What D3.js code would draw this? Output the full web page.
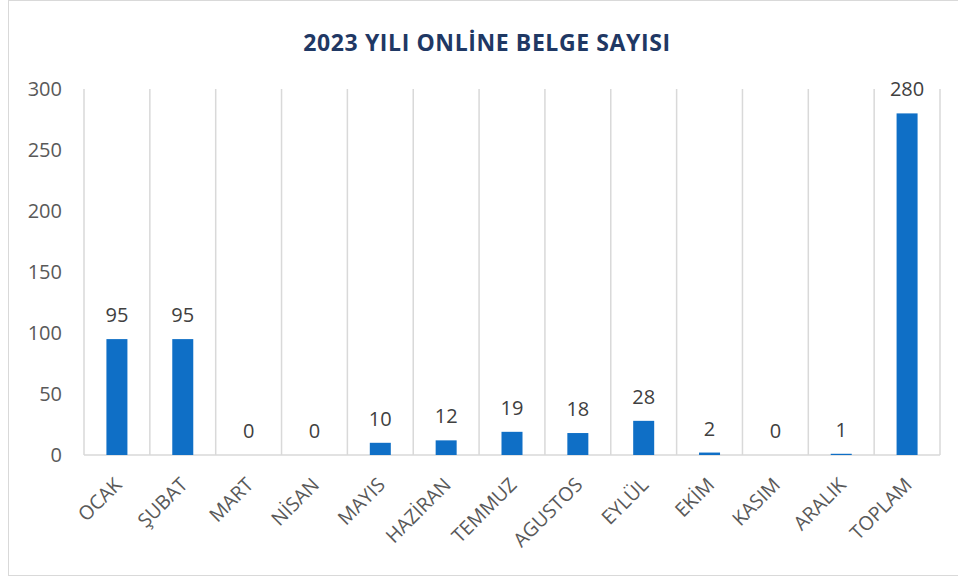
<!DOCTYPE html>
<html>
<head>
<meta charset="utf-8">
<script src="https://cdnjs.cloudflare.com/ajax/libs/d3/7.8.5/d3.min.js"></script>
<style>
  body { margin: 0; background: #fff; }
  svg { display: block; font-family: "Open Sans", sans-serif; }
</style>
</head>
<body>
<div id="container"></div>
<script>
var w = 958,
    h = 581;

// chart data
var months = ['OCAK', 'ŞUBAT', 'MART', 'NİSAN', 'MAYIS', 'HAZİRAN', 'TEMMUZ',
              'AGUSTOS', 'EYLÜL', 'EKİM', 'KASIM', 'ARALIK', 'TOPLAM'];
var counts = [95, 95, 0, 0, 10, 12, 19, 18, 28, 2, 0, 1, 280];
var yTicks = [0, 50, 100, 150, 200, 250, 300];
var title = '2023 YILI ONLİNE BELGE SAYISI';

var margin = { top: 89, right: 18, bottom: 126, left: 84 };
var plotW = w - margin.left - margin.right,
    plotH = h - margin.top - margin.bottom;

var svg = d3.select('#container')
    .append('svg')
    .attr('width', w)
    .attr('height', h);

// outer frame
svg.append('rect')
    .attr('x', 8.5)
    .attr('y', 0.5)
    .attr('width', w)
    .attr('height', 575)
    .attr('fill', '#fff')
    .attr('stroke', '#d9d9d9');

svg.append('text')
    .attr('x', 487)
    .attr('y', 51)
    .attr('text-anchor', 'middle')
    .attr('font-size', 23)
    .attr('font-weight', 'bold')
    .attr('letter-spacing', 0.6)
    .attr('fill', '#1f3864')
    .text(title);

var g = svg.append('g')
    .attr('transform', 'translate(' + margin.left + ',' + margin.top + ')');

var x = d3.scaleBand()
    .domain(months)
    .range([0, plotW])
    .paddingInner(0)
    .paddingOuter(0);

var y = d3.scaleLinear()
    .domain([0, 300])
    .range([plotH, 0]);

// vertical category separators
var seps = d3.range(months.length + 1).map(function(i) { return i * x.step(); });
g.selectAll('.sep')
    .data(seps)
    .enter().append('line')
    .attr('class', 'sep')
    .attr('x1', function(d) { return d; })
    .attr('x2', function(d) { return d; })
    .attr('y1', 0)
    .attr('y2', plotH)
    .attr('stroke', '#d9d9d9')
    .attr('stroke-width', 1.5);

// y axis labels
var yAxis = g.append('g')
    .call(d3.axisLeft(y).tickValues(yTicks).tickSize(0).tickPadding(22));
yAxis.select('.domain').remove();
yAxis.selectAll('text')
    .attr('font-size', 20)
    .attr('font-family', '"Open Sans", sans-serif')
    .attr('fill', '#595959');

// baseline
g.append('line')
    .attr('x1', 0)
    .attr('x2', plotW)
    .attr('y1', y(0))
    .attr('y2', y(0))
    .attr('stroke', '#d9d9d9')
    .attr('stroke-width', 1.5);

var barW = 21;

g.selectAll('.bar')
    .data(counts)
    .enter().append('rect')
    .attr('class', 'bar')
    .attr('x', function(d, i) { return x(months[i]) + x.bandwidth() / 2 - barW / 2; })
    .attr('y', function(d) { return y(d); })
    .attr('width', barW)
    .attr('height', function(d) { return y(0) - y(d); })
    .attr('fill', '#0f6fc6');

g.selectAll('.val')
    .data(counts)
    .enter().append('text')
    .attr('class', 'val')
    .attr('x', function(d, i) { return x(months[i]) + x.bandwidth() / 2; })
    .attr('y', function(d) { return y(d) - 17; })
    .attr('text-anchor', 'middle')
    .attr('font-size', 20)
    .attr('fill', '#404040')
    .text(function(d) { return d; });

// rotated month labels
g.selectAll('.xl')
    .data(months)
    .enter().append('text')
    .attr('class', 'xl')
    .attr('transform', function(d) {
        return 'translate(' + (x(d) + x.bandwidth() / 2 + 6) + ',' + (plotH + 31) + ') rotate(-45)';
    })
    .attr('text-anchor', 'end')
    .attr('font-size', 19.5)
    .attr('fill', '#595959')
    .text(function(d) { return d; });
</script>
</body>
</html>
